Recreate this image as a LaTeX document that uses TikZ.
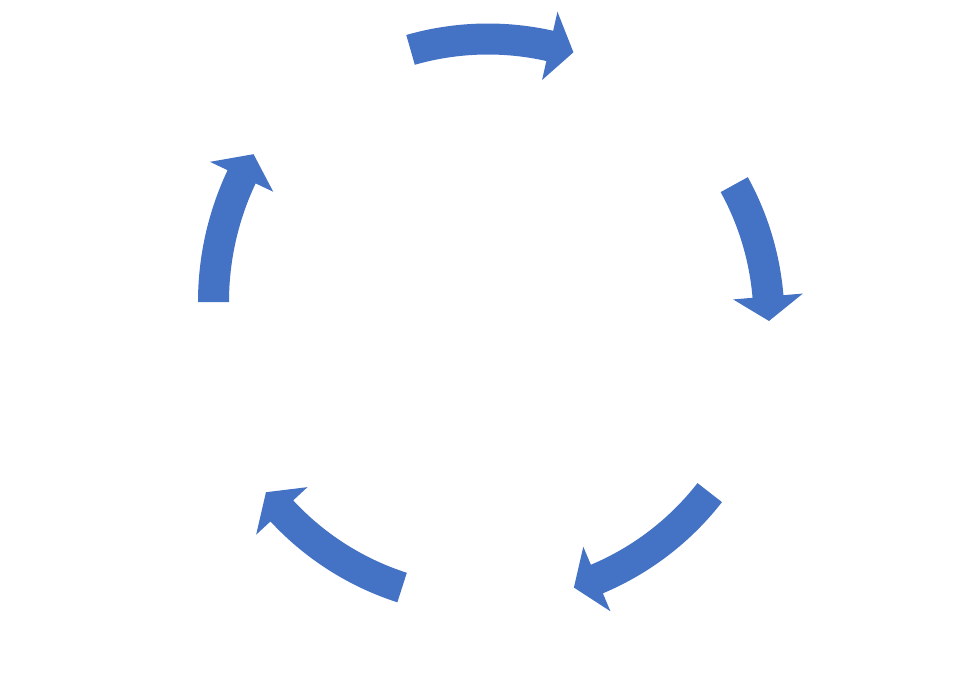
\documentclass[tikz,border=0pt]{standalone}
\usepackage{xcolor}
\usepackage{tikz}
\usetikzlibrary{calc}
\definecolor{cycleBlue}{HTML}{4472C4}

\begin{document}
\begin{tikzpicture}[x=0.02cm,y=0.02cm]
        \useasboundingbox (0,0) rectangle (975,691);
        \coordinate (hub) at (488,371);
        \coordinate (hubL) at (506.5,389);
        % centre / mid radius / tail angle / head base angle of each arrow
        \foreach \c/\r/\t/\b in {hub/281/106/77.3, hub/281/28.8/4.8, hub/281/-37.9/-67.2,
                hub/281/-107.8/-137.2, hubL/293/180/154.7}
            \fill[cycleBlue, shift={(\c)}] (\t:\r+15.5) arc[start angle=\t, end angle=\b, radius=\r+15.5]
                -- (\b:\r+35) -- (\b-5:\r) -- (\b:\r-35) -- (\b:\r-15.5)
                arc[start angle=\b, end angle=\t, radius=\r-15.5] -- cycle;
    \end{tikzpicture}
\end{document}
